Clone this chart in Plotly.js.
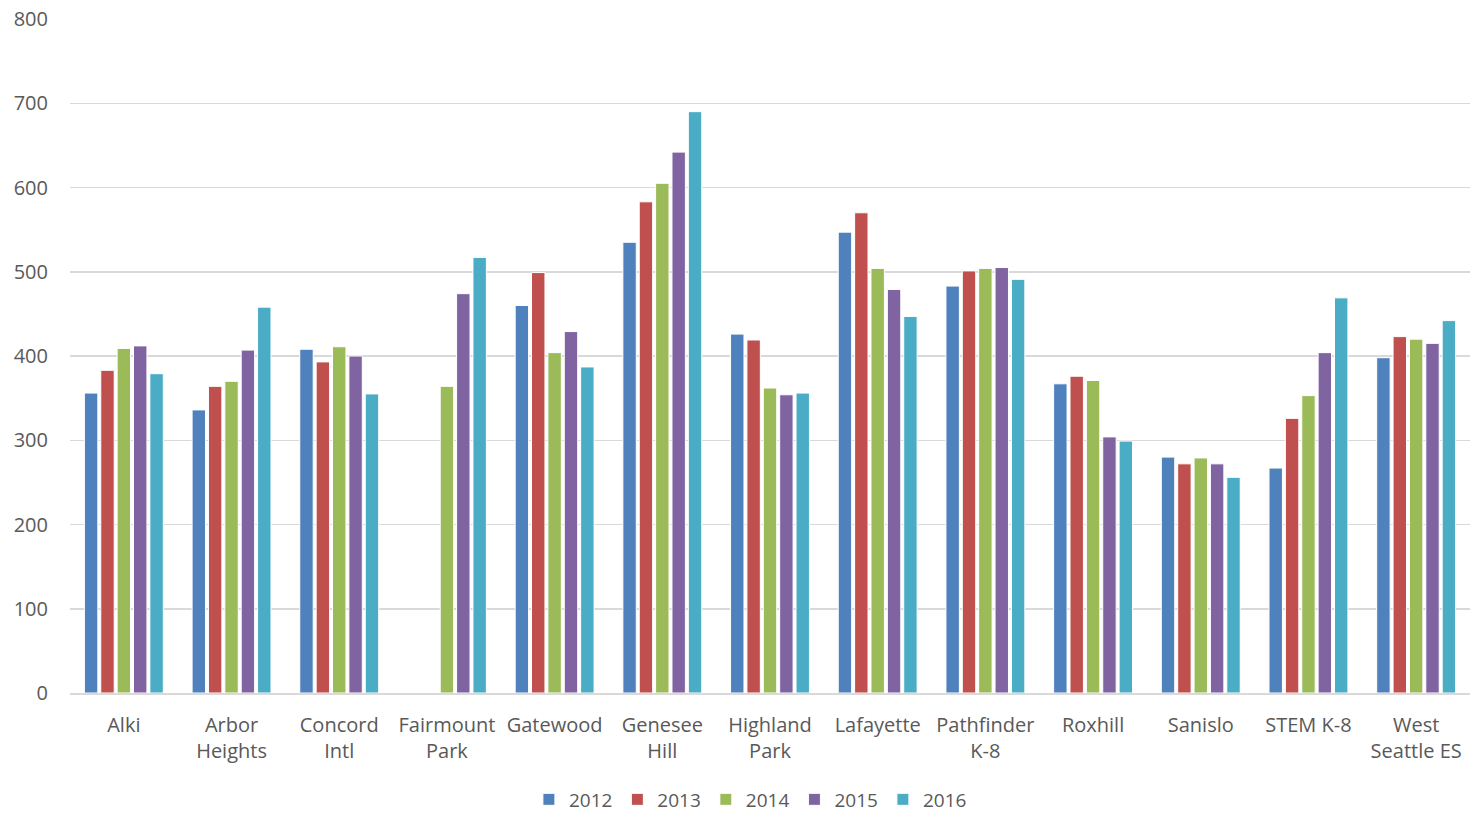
<!DOCTYPE html>
<html>
<head>
<meta charset="utf-8">
<script src="https://cdn.plot.ly/plotly-3.0.1.min.js"></script>
<style>html,body{margin:0;padding:0;background:#fff;}#chart{width:1474px;height:818px;}</style>
</head>
<body>
<div id="chart"></div>
<script>
const schools = ["Alki", "Arbor<br>Heights", "Concord<br>Intl", "Fairmount<br>Park", "Gatewood", "Genesee<br>Hill", "Highland<br>Park", "Lafayette", "Pathfinder<br>K-8", "Roxhill", "Sanislo", "STEM K-8", "West<br>Seattle ES"];
const years = ["2012", "2013", "2014", "2015", "2016"];
const colors = ["#4f81bd", "#c0504d", "#9bbb59", "#8064a2", "#4bacc6"];
const v2012 = [356, 336, 408, null, 460, 535, 426, 547, 483, 367, 280, 267, 398];
const v2013 = [383, 364, 393, null, 499, 583, 419, 570, 501, 376, 272, 326, 423];
const v2014 = [409, 370, 411, 364, 404, 605, 362, 504, 504, 371, 279, 353, 420];
const v2015 = [412, 407, 400, 474, 429, 642, 354, 479, 505, 304, 272, 404, 415];
const v2016 = [379, 458, 355, 517, 387, 690, 356, 447, 491, 299, 256, 469, 442];
const series = [v2012, v2013, v2014, v2015, v2016];

const traces = series.map((vals, i) => ({
  type: "bar",
  name: years[i],
  x: schools,
  y: vals,
  marker: {color: colors[i], line: {color: "#ffffff", width: 1}},
  hoverinfo: "x+y+name"
}));

const font = "Open Sans, Liberation Sans, sans-serif";
const layout = {
  width: 1474, height: 818,
  margin: {l: 70, r: 4, t: 19, b: 125, autoexpand: false},
  paper_bgcolor: "#ffffff", plot_bgcolor: "#ffffff",
  barmode: "group",
  bargap: 0.24,
  bargroupgap: 0.18,
  font: {family: font, size: 20, color: "#595959"},
  xaxis: {
    showgrid: false, showline: true, linecolor: "#d9d9d9", linewidth: 1.5,
    ticks: "", tickfont: {family: font, size: 20, color: "#595959"},
    ticklabelstandoff: 13, automargin: false, fixedrange: true
  },
  yaxis: {
    range: [0, 800], dtick: 100, showgrid: true, gridcolor: "#d9d9d9", gridwidth: 1.5,
    zeroline: false, showline: false, ticks: "",
    tickfont: {family: font, size: 20, color: "#595959"},
    ticklabelstandoff: 21, automargin: false, fixedrange: true
  },
  showlegend: true,
  legend: {
    orientation: "h", x: 0.486, xanchor: "center", y: -0.158, yanchor: "middle",
    font: {family: font, size: 19, color: "#595959"},
    itemwidth: 30, traceorder: "normal", itemclick: false
  }
};

Plotly.newPlot("chart", traces, layout, {displayModeBar: false, staticPlot: true});
</script>
</body>
</html>
